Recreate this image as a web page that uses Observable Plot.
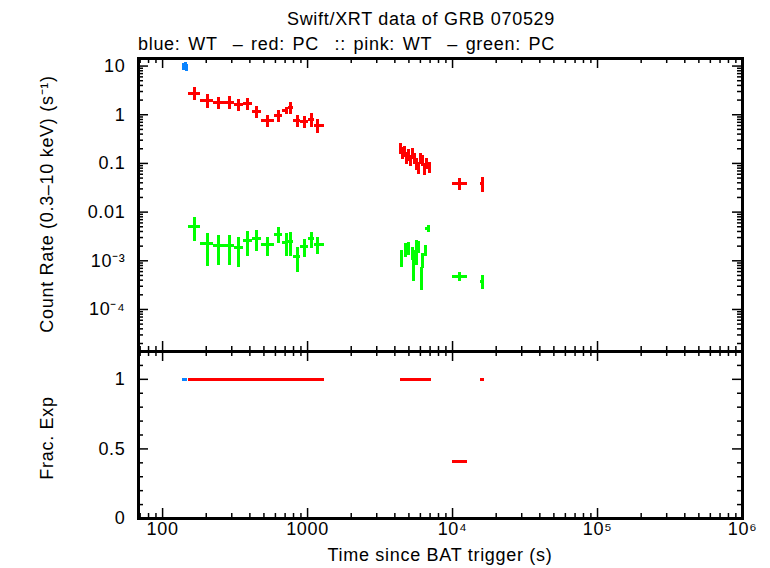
<!DOCTYPE html>
<html>
<head>
<meta charset="utf-8">
<script src="https://cdn.jsdelivr.net/npm/d3@7"></script>
<script src="https://cdn.jsdelivr.net/npm/@observablehq/plot@0.6"></script>
<style>
  body { margin: 0; background: #fff; }
  #chart { position: relative; width: 770px; height: 568px; font-family: "Liberation Sans", Arial, sans-serif; color: #000; overflow: hidden; }
  .lbl { position: absolute; white-space: nowrap; font-size: 18px; letter-spacing: 0.7px; line-height: 1; }
  .plot-layer { position: absolute; left: 0; }
  .plot-layer text { letter-spacing: 0.7px; }
</style>
</head>
<body>
<div id="chart"></div>
<script>
// ---- Window Timing (WT) mode, count rate ----
const wtTime  = [140, 143.5, 147];
const wtStart = [138, 141.5, 145.5];
const wtStop  = [141.5, 145.5, 149.5];
const wtRate  = [9.6, 10.2, 9.3];
const wtErr   = [1.6, 1.8, 1.5];
const wtFrac  = [1, 1, 1];

// ---- Photon Counting (PC) mode, count rate ----
const pcTime  = [167, 203, 244, 290, 333, 387, 445, 532, 634, 716, 764, 849, 953, 1066, 1178,
                 4390, 4495, 4667, 4820, 4975, 5134, 5300, 5470, 5645, 5826, 6013, 6206, 6404, 6609, 6930,
                 11170, 16100];
const pcStart = [152, 184, 224, 267, 313, 360, 415, 478, 590, 675, 740, 805, 900, 1010, 1120,
                 4375, 4440, 4580, 4745, 4900, 5055, 5215, 5385, 5555, 5735, 5920, 6110, 6305, 6505, 6770,
                 10050, 15600];
const pcStop  = [184, 224, 267, 313, 360, 415, 478, 590, 675, 740, 805, 900, 1010, 1120, 1300,
                 4440, 4580, 4745, 4900, 5055, 5215, 5385, 5555, 5735, 5920, 6110, 6305, 6505, 6770, 7160,
                 12600, 16640];
const pcRate  = [2.76, 1.96, 1.75, 1.81, 1.62, 1.67, 1.16, 0.76, 0.96, 1.22, 1.39, 0.76, 0.72, 0.80, 0.60,
                 0.202, 0.168, 0.18, 0.132, 0.152, 0.115, 0.160, 0.126, 0.0996, 0.0824, 0.126, 0.115, 0.0786, 0.0996, 0.0824,
                 0.0381, 0.038];
const pcErr   = [0.8, 0.64, 0.47, 0.52, 0.43, 0.45, 0.31, 0.2, 0.26, 0.21, 0.37, 0.2, 0.2, 0.24, 0.18,
                 0.05, 0.045, 0.045, 0.035, 0.04, 0.03, 0.04, 0.033, 0.027, 0.022, 0.032, 0.03, 0.021, 0.026, 0.02,
                 0.0102, 0.013];
const pcFrac  = [1, 1, 1, 1, 1, 1, 1, 1, 1, 1, 1, 1, 1, 1, 1,
                 1, 1, 1, 1, 1, 1, 1, 1, 1, 1, 1, 1, 1, 1, 1,
                 0.41, 1];

// ---- PC mode, green series ----
const grTime  = [167, 203, 244, 290, 333, 387, 445, 532, 634, 716, 764, 849, 953, 1066, 1178,
                 4420, 4740, 4975, 5300, 5420, 5645, 5780, 6110, 6206, 6508, 6780,
                 11200, 16100];
const grStart = [152, 184, 224, 267, 313, 360, 415, 478, 590, 675, 740, 805, 900, 1010, 1120,
                 4375, 4650, 4880, 5220, 5390, 5560, 5730, 6010, 6150, 6400, 6470,
                 10050, 15600];
const grStop  = [184, 224, 267, 313, 360, 415, 478, 590, 675, 740, 805, 900, 1010, 1120, 1300,
                 4470, 4830, 5070, 5380, 5510, 5730, 5840, 6210, 6270, 6620, 7080,
                 12600, 16640];
const grRate  = [5.06e-3, 2.23e-3, 2.06e-3, 2.06e-3, 1.85e-3, 2.61e-3, 2.83e-3, 2.13e-3, 3.47e-3, 2.41e-3, 2.53e-3, 1.23e-3, 1.97e-3, 2.83e-3, 2.16e-3,
                 1.185e-3, 1.71e-3, 1.85e-3, 1.46e-3, 1.0e-3, 1.7e-3, 1.94e-3, 4.9e-4, 1.04e-3, 1.63e-3, 4.54e-3,
                 4.69e-4, 3.76e-4];
const grErr   = [2.6e-3, 1.45e-3, 1.25e-3, 1.25e-3, 1.12e-3, 1.4e-3, 1.3e-3, 0.9e-3, 1.25e-3, 1.2e-3, 1.3e-3, 0.65e-3, 0.8e-3, 1.05e-3, 0.8e-3,
                 0.445e-3, 0.52e-3, 0.56e-3, 0.45e-3, 0.63e-3, 0.9e-3, 0.55e-3, 2.5e-4, 0.35e-3, 0.43e-3, 0.8e-3,
                 1.0e-4, 1.2e-4];

// ---- axes: ticks and tick labels ----
const xMajor = [100, 1000, 1e4, 1e5, 1e6];
const xTickLabels = ["100", "1000", "10\u2074", "10\u2075", "10\u2076"];
const yMajor = [10, 1, 0.1, 0.01, 1e-3, 1e-4];
const yTickLabels = ["10", "1", "0.1", "0.01", "10\u207B\u00B3", "10\u207B\u2074"];
const fracMajor = [0, 0.5, 1];
const fracTickLabels = ["0", "0.5", "1"];
const fracMinor = [0.1, 0.2, 0.3, 0.4, 0.6, 0.7, 0.8, 0.9, 1.1];

const xDomain = [68.2, 1e6];
const rateDomain = [1.37e-5, 14.3];
const fracDomain = [0, 1.2];

const BLUE = "#0a84ff", RED = "#ff0000", GREEN = "#00ff00";

const rows = (t, s, e, r, err) => t.map((v, i) => ({t: v, start: s[i], stop: e[i], rate: r[i], err: err ? err[i] : 0}));
const wt = rows(wtTime, wtStart, wtStop, wtRate, wtErr);
const pc = rows(pcTime, pcStart, pcStop, pcRate, pcErr);
const gr = rows(grTime, grStart, grStop, grRate, grErr);
const wtF = rows(wtTime, wtStart, wtStop, wtFrac);
const pcF = rows(pcTime, pcStart, pcStop, pcFrac);

// minor ticks on the log axes (2..9 × each decade)
const logMinor = (lo, hi) => {
  const out = [];
  for (let e = Math.floor(Math.log10(lo)); e <= Math.ceil(Math.log10(hi)); e++)
    for (let m = 2; m <= 9; m++) {
      const v = m * Math.pow(10, e);
      if (v > lo && v < hi) out.push(v);
    }
  return out;
};
const xMinor = logMinor(...xDomain);
const yMinor = logMinor(...rateDomain);

const W = 770, ML = 138, MR = 28;
const plotW = W - ML - MR;
const font = {background: "transparent", fontFamily: "'Liberation Sans', Arial, sans-serif", fontSize: "18px", overflow: "visible"};

// inward ticks on all four sides of a panel
function frameTicks(xs, xsMinor, ys, ysMinor, plotH) {
  const tk = {stroke: "black", strokeWidth: 1.5};
  const M = 10, m = 5;
  return [
    Plot.tickX(xs, {x: d => d, insetTop: plotH - M, ...tk}),
    Plot.tickX(xs, {x: d => d, insetBottom: plotH - M, ...tk}),
    Plot.tickX(xsMinor, {x: d => d, insetTop: plotH - m, ...tk}),
    Plot.tickX(xsMinor, {x: d => d, insetBottom: plotH - m, ...tk}),
    Plot.tickY(ys, {y: d => d, insetRight: plotW - M, ...tk}),
    Plot.tickY(ys, {y: d => d, insetLeft: plotW - M, ...tk}),
    Plot.tickY(ysMinor, {y: d => d, insetRight: plotW - m, ...tk}),
    Plot.tickY(ysMinor, {y: d => d, insetLeft: plotW - m, ...tk})
  ];
}

const bar = {strokeWidth: 3, shapeRendering: "crispEdges"};
function errorBars(data, color) {
  return [
    Plot.ruleY(data, {y: "rate", x1: "start", x2: "stop", stroke: color, ...bar}),
    Plot.ruleX(data, {x: "t", y1: d => d.rate - d.err, y2: d => d.rate + d.err, stroke: color, ...bar})
  ];
}

// upper panel: count rate
const upperH = 353, upperTop = 58, upperBottom = 2;
const upper = Plot.plot({
  width: W, height: upperH,
  marginTop: upperTop, marginBottom: upperBottom, marginLeft: ML, marginRight: MR,
  style: font,
  x: {type: "log", domain: xDomain, axis: null},
  y: {type: "log", domain: rateDomain, axis: null},
  marks: [
    ...frameTicks(xMajor, xMinor, yMajor, yMinor, upperH - upperTop - upperBottom),
    ...errorBars(gr, GREEN),
    ...errorBars(pc, RED),
    ...errorBars(wt, BLUE),
    Plot.text(yMajor, {y: d => d, text: (d, i) => yTickLabels[i], frameAnchor: "left", dx: -13, textAnchor: "end", fontSize: 18}),
    Plot.frame({stroke: "black", strokeWidth: 3})
  ]
});

// lower panel: fractional exposure
const lowerH = 219, lowerTop = 2, lowerBottom = 50;
const lower = Plot.plot({
  width: W, height: lowerH,
  marginTop: lowerTop, marginBottom: lowerBottom, marginLeft: ML, marginRight: MR,
  style: font,
  x: {type: "log", domain: xDomain, axis: null},
  y: {domain: fracDomain, axis: null},
  marks: [
    ...frameTicks(xMajor, xMinor, fracMajor, fracMinor, lowerH - lowerTop - lowerBottom),
    Plot.ruleY(wtF, {y: "rate", x1: "start", x2: "stop", stroke: BLUE, ...bar}),
    Plot.ruleY(pcF, {y: "rate", x1: "start", x2: "stop", stroke: RED, ...bar}),
    Plot.text(fracMajor, {y: d => d, text: (d, i) => fracTickLabels[i], frameAnchor: "left", dx: -13, textAnchor: "end", fontSize: 18}),
    Plot.text(xMajor, {x: d => d, text: (d, i) => xTickLabels[i], frameAnchor: "bottom", dy: 16, textAnchor: "middle", fontSize: 18}),
    Plot.frame({stroke: "black", strokeWidth: 3})
  ]
});

const chart = document.getElementById("chart");
const place = (node, top) => {
  const d = document.createElement("div");
  d.className = "plot-layer";
  d.style.top = top + "px";
  d.appendChild(node);
  chart.appendChild(d);
};
place(upper, 0);
place(lower, upperH - upperBottom - lowerTop);

const label = (txt, css) => {
  const d = document.createElement("div");
  d.className = "lbl";
  d.textContent = txt;
  Object.assign(d.style, css);
  chart.appendChild(d);
};
label("Swift/XRT data of GRB 070529", {left: "421px", top: "10px", transform: "translateX(-50%)"});
label("blue: WT  \u2013 red: PC  :: pink: WT  \u2013 green: PC", {left: "138px", top: "35px", whiteSpace: "pre", wordSpacing: "2px"});
label("Count Rate (0.3\u201310 keV) (s\u207B\u00B9)", {left: "47px", top: "204px", transform: "translate(-50%,-50%) rotate(-90deg)"});
label("Frac. Exp", {left: "47px", top: "438px", transform: "translate(-50%,-50%) rotate(-90deg)"});
label("Time since BAT trigger (s)", {left: "440px", top: "555px", transform: "translate(-50%,-50%)"});
</script>
</body>
</html>
